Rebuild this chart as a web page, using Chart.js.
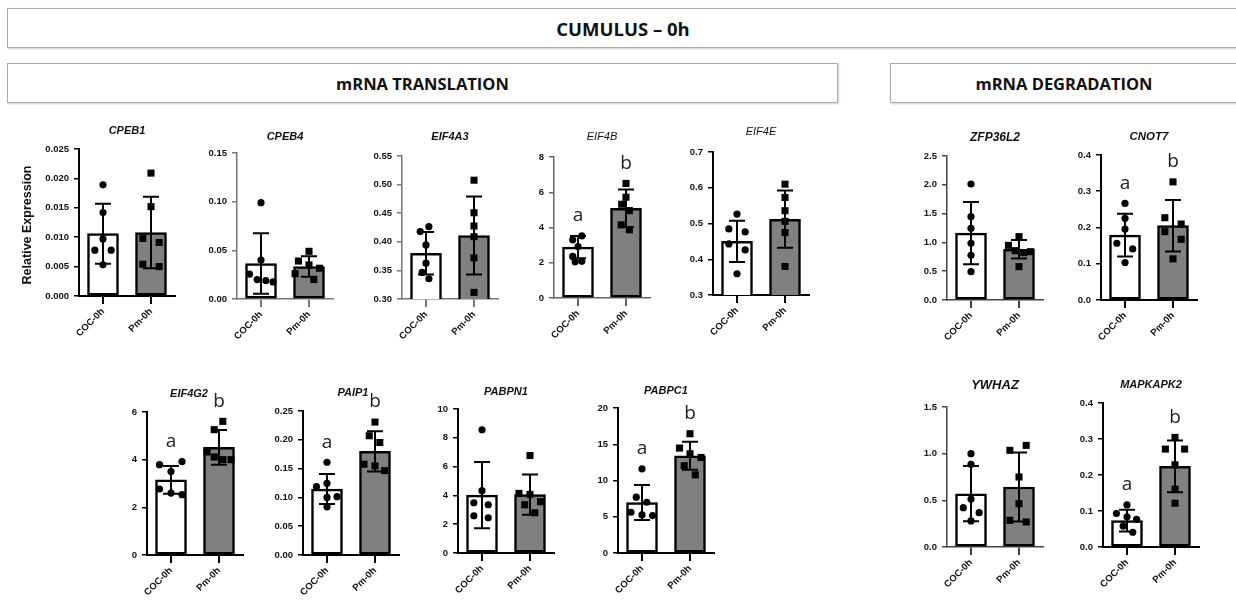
<!DOCTYPE html>
<html>
<head>
<meta charset="utf-8">
<script src="https://cdn.jsdelivr.net/npm/chart.js@4.4.0/dist/chart.umd.min.js"></script>
<style>
body { margin: 0; background: #fff; width: 1236px; height: 600px; overflow: hidden; position: relative; }
.box { position: absolute; border: 1px solid #a9a9a9; box-shadow: 1px 1px 2px #cfcfcf; box-sizing: border-box;
       display: flex; align-items: center; justify-content: center;
       font-family: 'Open Sans', sans-serif; font-weight: 700; font-size: 16.5px; color: #111; }
canvas { position: absolute; }
</style>
</head>
<body>
<div class="box" style="left:7px;top:8px;width:1232px;height:40px;font-size:18.5px">CUMULUS – 0h</div>
<div class="box" style="left:7px;top:63px;width:831px;height:40px">mRNA TRANSLATION</div>
<div class="box" style="left:890px;top:63px;width:348px;height:40px">mRNA DEGRADATION</div>

<script>
// data
const genes = ['CPEB1', 'CPEB4', 'EIF4A3', 'EIF4B', 'EIF4E', 'ZFP36L2', 'CNOT7',
               'EIF4G2', 'PAIP1', 'PABPN1', 'PABPC1', 'YWHAZ', 'MAPKAPK2'];
const groups = ['COC-0h', 'Pm-0h'];

const cocMean = [0.0106, 0.0365, 0.380, 2.89, 0.450, 1.16, 0.179, 3.15, 0.1145, 4.02, 6.96, 0.571, 0.0733];
const pmMean  = [0.0108, 0.0334, 0.411, 5.09, 0.512, 0.88, 0.205, 4.52, 0.180, 4.05, 13.41, 0.643, 0.224];
const cocSD   = [0.0051, 0.031, 0.037, 0.63, 0.058, 0.54, 0.059, 0.58, 0.026, 2.3, 2.42, 0.296, 0.030];
const pmSD    = [0.0061, 0.0105, 0.068, 1.06, 0.080, 0.16, 0.071, 0.73, 0.035, 1.4, 1.94, 0.37, 0.072];

const cocPoints = [
  [0.0189, 0.0142, 0.0097, 0.0078, 0.0078, 0.0053],
  [0.099, 0.040, 0.0255, 0.020, 0.019, 0.0175],
  [0.4265, 0.4178, 0.3946, 0.3626, 0.3464, 0.3354],
  [3.53, 3.30, 2.92, 2.36, 2.08, 2.05],
  [0.5265, 0.4847, 0.4763, 0.4429, 0.4262, 0.3594],
  [2.014, 1.447, 1.244, 0.984, 0.775, 0.492],
  [0.2664, 0.2252, 0.1959, 0.1565, 0.141, 0.1034],
  [3.79, 3.92, 3.50, 2.77, 2.60, 2.53],
  [0.161, 0.1186, 0.1244, 0.1012, 0.100, 0.0837],
  [8.56, 4.33, 3.49, 3.35, 2.58, 2.44],
  [11.61, 7.70, 7.0, 5.62, 5.25, 5.16],
  [1.0, 0.886, 0.514, 0.421, 0.368, 0.279],
  [0.117, 0.093, 0.084, 0.077, 0.058, 0.041]
];
const pmPoints = [
  [0.0209, 0.0152, 0.0098, 0.0091, 0.0054, 0.0050],
  [0.049, 0.039, 0.035, 0.0316, 0.026, 0.020],
  [0.5077, 0.4508, 0.4276, 0.409, 0.3719, 0.3116],
  [6.5, 5.72, 5.32, 4.96, 4.15, 3.87],
  [0.61, 0.5729, 0.5357, 0.506, 0.4745, 0.3798],
  [1.10, 0.949, 0.856, 0.839, 0.822, 0.579],
  [0.3259, 0.227, 0.2096, 0.1886, 0.1675, 0.1135],
  [5.608, 5.259, 4.32, 4.11, 4.0, 4.0],
  [0.2308, 0.207, 0.1953, 0.1576, 0.1547, 0.1465],
  [6.77, 4.14, 4.07, 3.56, 3.35, 2.79],
  [16.45, 14.47, 13.69, 13.18, 12.03, 10.78],
  [1.089, 1.036, 0.75, 0.464, 0.286, 0.268],
  [0.3044, 0.272, 0.272, 0.2283, 0.1606, 0.1216]
];

// significance letters per gene (null = none)
const letters = [null, null, null, ['a', 'b'], null, null, ['a', 'b'],
                 ['a', 'b'], ['a', 'b'], null, ['a', 'b'], null, ['a', 'b']];

// y axis ranges and tick labels
const yMin   = [0, 0, 0.3, 0, 0.3, 0, 0, 0, 0, 0, 0, 0, 0];
const yMax   = [0.025, 0.15, 0.55, 8, 0.7, 2.5, 0.4, 6, 0.25, 10, 20, 1.5, 0.4];
const yStep  = [0.005, 0.05, 0.05, 2, 0.1, 0.5, 0.1, 2, 0.05, 2, 5, 0.5, 0.1];
const yDigits = [3, 2, 2, 0, 1, 1, 1, 0, 2, 0, 0, 1, 1];

// horizontal spread of the dots (in bar spacings)
const cocJitter = [
  [0, 0, 0, -0.17, 0.17, 0], [0, 0, -0.24, -0.08, 0.1, 0.25], [0.06, -0.12, 0, 0, -0.08, 0.06],
  [0.08, -0.11, 0, -0.11, 0.08, -0.06], [0, -0.17, 0.17, -0.17, 0.17, 0], [0, 0, 0, 0, 0, 0],
  [0, 0, 0, -0.17, 0.16, 0], [-0.24, 0.23, 0, -0.24, 0, 0.23], [0, -0.22, 0, 0.21, 0, 0],
  [0, 0, -0.17, 0.13, -0.17, 0.13], [0, -0.12, 0.1, -0.23, 0, 0.22], [0, 0, 0, -0.16, 0.17, 0],
  [0, -0.22, 0, 0.2, -0.08, 0.12]
];
const pmJitter = [
  [0, 0, -0.17, 0.17, -0.17, 0.17], [0, -0.22, 0, 0.22, -0.29, 0.1], [0, 0, 0, 0, 0, 0],
  [0, 0, -0.09, 0.07, -0.1, 0.07], [0, 0, 0, 0, 0, 0], [0, -0.22, -0.08, 0.24, 0.1, 0],
  [0, -0.17, 0.17, -0.17, 0.17, 0], [0.08, -0.1, -0.25, -0.1, 0.08, 0.25], [0, -0.12, 0.1, -0.23, 0, 0.2],
  [0, -0.23, 0, 0.22, -0.11, 0.1], [0, -0.22, 0, 0.23, -0.12, 0.11], [0.15, -0.19, 0, 0, -0.19, 0.15],
  [0, -0.2, 0.2, 0, 0, 0]
];

// panel layout: y-axis x, top tick y, zero y, title y, title dx, title size, title weight, axis colour
const panels = [
  [79, 149, 296, 131, 0, 11, 'bold', '#000'],
  [237, 153, 299, 137, 0, 11, 'bold', '#777'],
  [402, 156, 299, 137, 0, 11, 'bold', '#777'],
  [554, 157, 298, 137, 0, 11, 'normal', '#666'],
  [713, 152, 295, 132, 0, 11, 'normal', '#000'],
  [947, 156, 300, 138, 0, 12, 'bold', '#444'],
  [1101, 155, 300, 137, 0, 11.5, 'bold', '#000'],
  [147, 412, 555, 394, -6, 11, 'bold', '#000'],
  [303, 411, 555, 393, 2, 11, 'bold', '#000'],
  [458, 409, 553, 392, 0, 11, 'bold', '#000'],
  [618, 408, 553, 391, 0, 11, 'bold', '#000'],
  [947, 407, 547, 385, 0, 13, 'bold', '#444'],
  [1103, 403, 547, 385, 0, 11, 'bold', '#000']
];

const AXIS_W = 60, AXIS_H = 60, PAD_TOP = 40, PAD_RIGHT = 12, PLOT_W = 96;

const errorBars = {
  id: 'errorBars',
  afterDatasetDraw(chart, args, opts) {
    if (args.meta.type !== 'bar') return;
    const xs = chart.scales.x, ys = chart.scales.y, ctx = chart.ctx;
    ctx.save();
    ctx.strokeStyle = '#000';
    ctx.lineWidth = 2;
    opts.mean.forEach((m, i) => {
      const x = xs.getPixelForValue(i);
      const hi = ys.getPixelForValue(m + opts.sd[i]);
      const lo = ys.getPixelForValue(Math.max(m - opts.sd[i], ys.min));
      ctx.beginPath();
      ctx.moveTo(x, hi); ctx.lineTo(x, lo);
      ctx.moveTo(x - 8, hi); ctx.lineTo(x + 8, hi);
      ctx.moveTo(x - 8, lo); ctx.lineTo(x + 8, lo);
      ctx.stroke();
    });
    ctx.restore();
  }
};

const decorations = {
  id: 'decorations',
  afterDraw(chart, args, opts) {
    const ctx = chart.ctx, area = chart.chartArea;
    const xs = chart.scales.x, ys = chart.scales.y;
    ctx.save();
    ctx.fillStyle = '#111';
    ctx.textAlign = 'center';
    ctx.textBaseline = 'middle';
    // gene name
    ctx.font = 'italic ' + opts.titleWeight + ' ' + opts.titleSize + 'px "Liberation Sans", Arial';
    ctx.fillText(opts.title, (area.left + area.right) / 2 + opts.titleDx, opts.titleY);
    // a / b letters
    if (opts.letters) {
      ctx.font = '19px "Open Sans"';
      ctx.fillStyle = '#222';
      opts.letters.forEach((t, i) => {
        const top = Math.max(opts.mean[i] + opts.sd[i], ...opts.points[i]);
        ctx.fillText(t, xs.getPixelForValue(i), ys.getPixelForValue(top) - 20);
      });
    }
    // y title (first panel only)
    if (opts.yTitle) {
      ctx.translate(opts.yTitle.x, opts.yTitle.y);
      ctx.rotate(-Math.PI / 2);
      ctx.font = 'bold 12.5px "Liberation Sans", Arial';
      ctx.fillStyle = '#111';
      ctx.fillText(opts.yTitle.text, 0, 0);
    }
    ctx.restore();
  }
};

genes.forEach((gene, i) => {
  const [x0, yTop, yBot, titleY, titleDx, titleSize, titleWeight, axisColor] = panels[i];
  const left = x0 - AXIS_W, top = yTop - PAD_TOP;
  const canvas = document.createElement('canvas');
  canvas.width = AXIS_W + PLOT_W + PAD_RIGHT;
  canvas.height = (yBot - yTop) + PAD_TOP + AXIS_H;
  canvas.style.left = left + 'px';
  canvas.style.top = top + 'px';
  document.body.appendChild(canvas);

  const axisWidth = axisColor === '#000' ? 2 : 1.5;
  const tickFont = { family: '"Liberation Sans", Arial', size: 9.5, weight: 'bold' };
  const means = [cocMean[i], pmMean[i]];
  const sds = [cocSD[i], pmSD[i]];

  new Chart(canvas.getContext('2d'), {
    type: 'bar',
    data: {
      datasets: [
        {
          type: 'bar',
          data: groups.map((g, j) => ({ x: j, y: means[j] })),
          backgroundColor: ['#ffffff', '#808080'],
          borderColor: '#000',
          borderWidth: 2.5,
          borderSkipped: false,
          barThickness: 31,
          order: 3
        },
        {
          type: 'scatter',
          data: cocPoints[i].map((v, k) => ({ x: cocJitter[i][k], y: v })),
          pointStyle: 'circle',
          pointRadius: 3.6,
          backgroundColor: '#000',
          borderWidth: 0,
          order: 1
        },
        {
          type: 'scatter',
          data: pmPoints[i].map((v, k) => ({ x: 1 + pmJitter[i][k], y: v })),
          pointStyle: 'rect',
          pointRadius: 5,
          backgroundColor: '#000',
          borderWidth: 0,
          order: 1
        }
      ]
    },
    options: {
      responsive: false,
      animation: false,
      devicePixelRatio: 1,
      layout: { padding: { top: PAD_TOP, right: PAD_RIGHT, left: 0, bottom: 0 } },
      scales: {
        x: {
          type: 'linear',
          min: -0.5,
          max: 1.5,
          offset: false,
          afterBuildTicks: s => { s.ticks = [{ value: 0 }, { value: 1 }]; },
          afterFit: s => { s.height = AXIS_H; },
          border: { color: axisColor, width: axisWidth },
          grid: { offset: false, drawOnChartArea: false, drawTicks: true, tickLength: 8, color: axisColor, lineWidth: 2 },
          ticks: {
            minRotation: 45,
            maxRotation: 45,
            padding: 2,
            color: '#111',
            font: tickFont,
            callback: v => groups[v]
          }
        },
        y: {
          min: yMin[i],
          max: yMax[i],
          afterBuildTicks: s => {
            const n = Math.round((yMax[i] - yMin[i]) / yStep[i]);
            s.ticks = [];
            for (let k = 0; k <= n; k++) s.ticks.push({ value: yMin[i] + k * yStep[i] });
          },
          afterFit: s => { s.width = AXIS_W; },
          border: { color: axisColor, width: axisWidth },
          grid: { drawOnChartArea: false, drawTicks: true, tickLength: 5, color: axisColor, lineWidth: 1.5 },
          ticks: {
            padding: 5,
            color: '#111',
            font: tickFont,
            callback: v => Number(v).toFixed(yDigits[i])
          }
        }
      },
      plugins: {
        legend: { display: false },
        tooltip: { enabled: false },
        errorBars: { mean: means, sd: sds },
        decorations: {
          title: gene,
          titleY: titleY - top,
          titleDx: titleDx,
          titleSize: titleSize,
          titleWeight: titleWeight,
          letters: letters[i],
          mean: means,
          sd: sds,
          points: [cocPoints[i], pmPoints[i]],
          yTitle: i === 0 ? { text: 'Relative Expression', x: 28 - left, y: 225 - top } : null
        }
      }
    },
    plugins: [errorBars, decorations]
  });
});
</script>
</body>
</html>
